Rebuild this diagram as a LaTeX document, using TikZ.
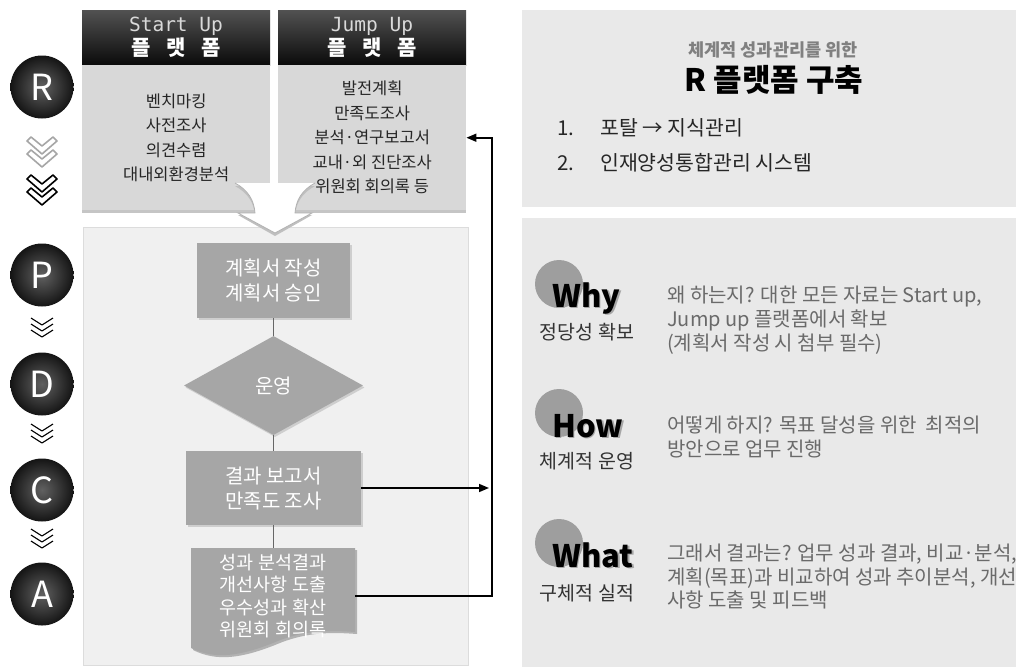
\documentclass[tikz,border=0pt]{standalone}
\usepackage{fontspec}
\setmainfont{Noto Sans CJK KR}
\newfontfamily\monof{DejaVu Sans Mono}
\usetikzlibrary{shapes.geometric,arrows.meta,shadows,calc}
\definecolor{lboxc}{HTML}{D8D8D8}
\definecolor{panelc}{HTML}{F0F0F0}
\definecolor{panelb}{HTML}{DCDCDC}
\definecolor{fgray}{HTML}{A6A6A6}
\definecolor{rpanc}{HTML}{E9E9E9}
\definecolor{desc}{HTML}{6A6A6A}
\newcommand\mychevbig[2]{\draw[#2, line width=1.6pt, line join=round] (31,#1) -- (42,#1+9) -- (53,#1) -- (57,#1+4) -- (42,#1+17) -- (27,#1+4) -- cycle;}
\newcommand\mychevsmall[1]{\foreach \k in {0,6,12} {\draw[line width=1.1pt, line join=round] (31,#1+\k) -- (42,#1+\k+7) -- (53,#1+\k);}}
\tikzset{
  hdr/.style={rectangle, minimum width=188pt, minimum height=55pt, inner sep=0pt, top color=black!68, bottom color=black!96, align=center, text=white},
  lbox/.style={rectangle, fill=lboxc, minimum width=188pt, minimum height=145pt, inner sep=0pt, align=center, font=\fontsize{16.5}{24.5}\selectfont, text=black!85, drop shadow={shadow xshift=0pt, shadow yshift=-3pt, opacity=0.45}},
  fbox/.style={rectangle, fill=fgray, inner sep=0pt, align=center, text=white, font=\fontsize{20}{25}\selectfont, drop shadow={shadow xshift=1.5pt, shadow yshift=-2pt, opacity=0.3}},
  conn/.style={draw=black!60, line width=0.8pt},
  arr/.style={draw=black, line width=1.6pt, -{Triangle[length=10pt,width=8pt]}},
  circ/.style={circle, minimum size=63pt, inner sep=0pt, inner color=black!62, outer color=black!92, text=white, font=\fontsize{36}{36}\selectfont},
  rpan/.style={rectangle, fill=rpanc, inner sep=0pt, anchor=north west},
  wcirc/.style={circle, fill=black!38, minimum size=48pt, inner sep=0pt},
  wt/.style={anchor=base west, inner sep=0pt, font=\bfseries\fontsize{31}{31}\selectfont},
  lab/.style={inner sep=0pt, font=\fontsize{19.5}{19.5}\selectfont, text=black!80},
  dl/.style={anchor=base west, inner sep=0pt, font=\fontsize{20}{24}\selectfont, text=desc}
}
\begin{document}
\begin{tikzpicture}[x=1pt,y=-1pt]
\useasboundingbox (0,0) rectangle (1016,667);
\fill[white] (0,0) rectangle (1016,667);

% headers
\node[hdr] (SUh) at (176,37.5) {{\monof\fontsize{19.5}{22}\selectfont\color{black!15}Start Up}\\[1pt]{\bfseries\fontsize{21}{22}\selectfont 플\hspace{16pt}랫\hspace{16pt}폼}};
\node[hdr] (JUh) at (372,37.5) {{\monof\fontsize{19.5}{22}\selectfont\color{black!15}Jump Up}\\[1pt]{\bfseries\fontsize{21}{22}\selectfont 플\hspace{16pt}랫\hspace{16pt}폼}};

% light boxes
\node[lbox, anchor=north west] (SU) at (82,65) {벤치마킹\\사전조사\\의견수렴\\대내외환경분석};
\node[lbox, anchor=north west] (JU) at (278,65) {발전계획\\만족도조사\\분석·연구보고서\\교내·외 진단조사\\위원회 회의록 등};

% main panel
\node[rectangle, draw=panelb, fill=panelc, minimum width=385pt, minimum height=438pt, inner sep=0pt, anchor=north west] (main) at (83,227) {};

% big white arrow
\fill[black!25] (235,186) .. controls (248,193) and (254,203) .. (255,215) -- (238,215) -- (275,236) -- (312,215) -- (295,215) .. controls (296,203) and (302,193) .. (315,186) -- cycle;
\fill[white] (235,183) .. controls (248,190) and (254,200) .. (255,213) -- (238,213) -- (275,233) -- (312,213) -- (295,213) .. controls (296,200) and (302,190) .. (315,183) -- cycle;
\draw[black!30, line width=0.8pt] (235,183) .. controls (248,190) and (254,200) .. (255,213) -- (238,213) -- (275,233) -- (312,213) -- (295,213) .. controls (296,200) and (302,190) .. (315,183);

% flowchart
\node[fbox, minimum width=153pt, minimum height=75pt] (P1) at (273.5,280.5) {계획서 작성\\계획서 승인};
\node[diamond, fill=fgray, minimum width=179pt, minimum height=99pt, inner sep=0pt, text=white, font=\fontsize{20}{22}\selectfont, drop shadow={shadow xshift=1.5pt, shadow yshift=-2pt, opacity=0.3}] (D1) at (273.5,385.5) {운영};
\node[fbox, minimum width=175pt, minimum height=74pt] (C1) at (273.5,488) {결과 보고서\\만족도 조사};
\fill[black!30] (193,550) -- (357,550) -- (357,634) .. controls (330,632) and (305,632) .. (275,645) .. controls (242,658) and (217,662) .. (193,650) -- cycle;
\fill[fgray] (191,548) -- (355,548) -- (355,632) .. controls (328,630) and (303,630) .. (273,643) .. controls (240,656) and (215,660) .. (191,648) -- cycle;
\coordinate (Atop) at (273.5,548);
\node[inner sep=0pt, minimum width=164pt, align=center, text=white, font=\fontsize{18.5}{22.3}\selectfont] (A1) at (273,596) {성과 분석결과\\개선사항 도출\\우수성과 확산\\위원회 회의록};

\draw[conn] (P1.south) -- (D1.north);
\draw[conn] (D1.south) -- (C1.north);
\draw[conn] (C1.south) -- (Atop);

% feedback arrows
\coordinate (loopX) at (492,0);
\coordinate (Ctip) at (489,488);
\draw[arr] (C1.east) -- (Ctip);
\draw[arr] (A1.east) -- (A1.east -| loopX) |- (JU.east);

% left PDCA circles
\node[circ] (cR) at (42,87) {R};
\node[circ] (cP) at (42,275) {P};
\node[circ] (cD) at (42,384) {D};
\node[circ] (cC) at (42,490) {C};
\node[circ] (cA) at (42,594) {A};

\mychevbig{137}{black!35}
\mychevbig{150}{black!35}
\mychevbig{175}{black}
\mychevbig{188}{black}
\mychevsmall{318}
\mychevsmall{424}
\mychevsmall{529}

% right panels
\node[rpan, minimum width=494pt, minimum height=197pt] (RT) at (522,10) {};
\node[rpan, minimum width=494pt, minimum height=449pt] (RB) at (522,218) {};

\node[inner sep=0pt, text=black!50, font=\bfseries\fontsize{17.5}{17.5}\selectfont] (rt1) at (773,50) {체계적 성과관리를 위한};
\node[inner sep=0pt, text=black, font=\bfseries\fontsize{31}{31}\selectfont] (rt2) at (774,80) {R 플랫폼 구축};
\node[anchor=base west, inner sep=0pt, text=black!85, font=\fontsize{20.5}{20.5}\selectfont] (rt3) at (557,135) {\makebox[43pt][l]{1.}포탈 → 지식관리};
\node[anchor=base west, inner sep=0pt, text=black!85, font=\fontsize{20.5}{20.5}\selectfont] (rt4) at (557,170) {\makebox[43pt][l]{2.}인재양성통합관리 시스템};

% Why
\node[wcirc] (cw) at (559,284) {};
\node[wt, text=black!35] (twS) at (553.5,308.5) {Why};
\node[wt] (tw) at (552,307) {Why};
\node[lab] (lw) at (587,332) {정당성 확보};
\node[dl] (dw1) at (667,302) {왜 하는지? 대한 모든 자료는 Start up,};
\node[dl] (dw2) at (667,326) {Jump up 플랫폼에서 확보};
\node[dl] (dw3) at (667,350) {(계획서 작성 시 첨부 필수)};

% How
\node[wcirc] (ch) at (559,413) {};
\node[wt, text=black!35] (thS) at (553.5,438.5) {How};
\node[wt] (th) at (552,437) {How};
\node[lab] (lh) at (587,461) {체계적 운영};
\node[dl] (dh1) at (667,432) {어떻게 하지? 목표 달성을 위한\ \ 최적의};
\node[dl] (dh2) at (667,456) {방안으로 업무 진행};

% What
\node[wcirc] (ca) at (559,543) {};
\node[wt, text=black!35] (taS) at (553.5,568.5) {What};
\node[wt] (ta) at (552,567) {What};
\node[lab] (la) at (587,593) {구체적 실적};
\node[dl] (da1) at (667,560) {그래서 결과는? 업무 성과 결과, 비교·분석,};
\node[dl] (da2) at (667,584) {계획(목표)과 비교하여 성과 추이분석, 개선};
\node[dl] (da3) at (667,607) {사항 도출 및 피드백};
\end{tikzpicture}
\end{document}
